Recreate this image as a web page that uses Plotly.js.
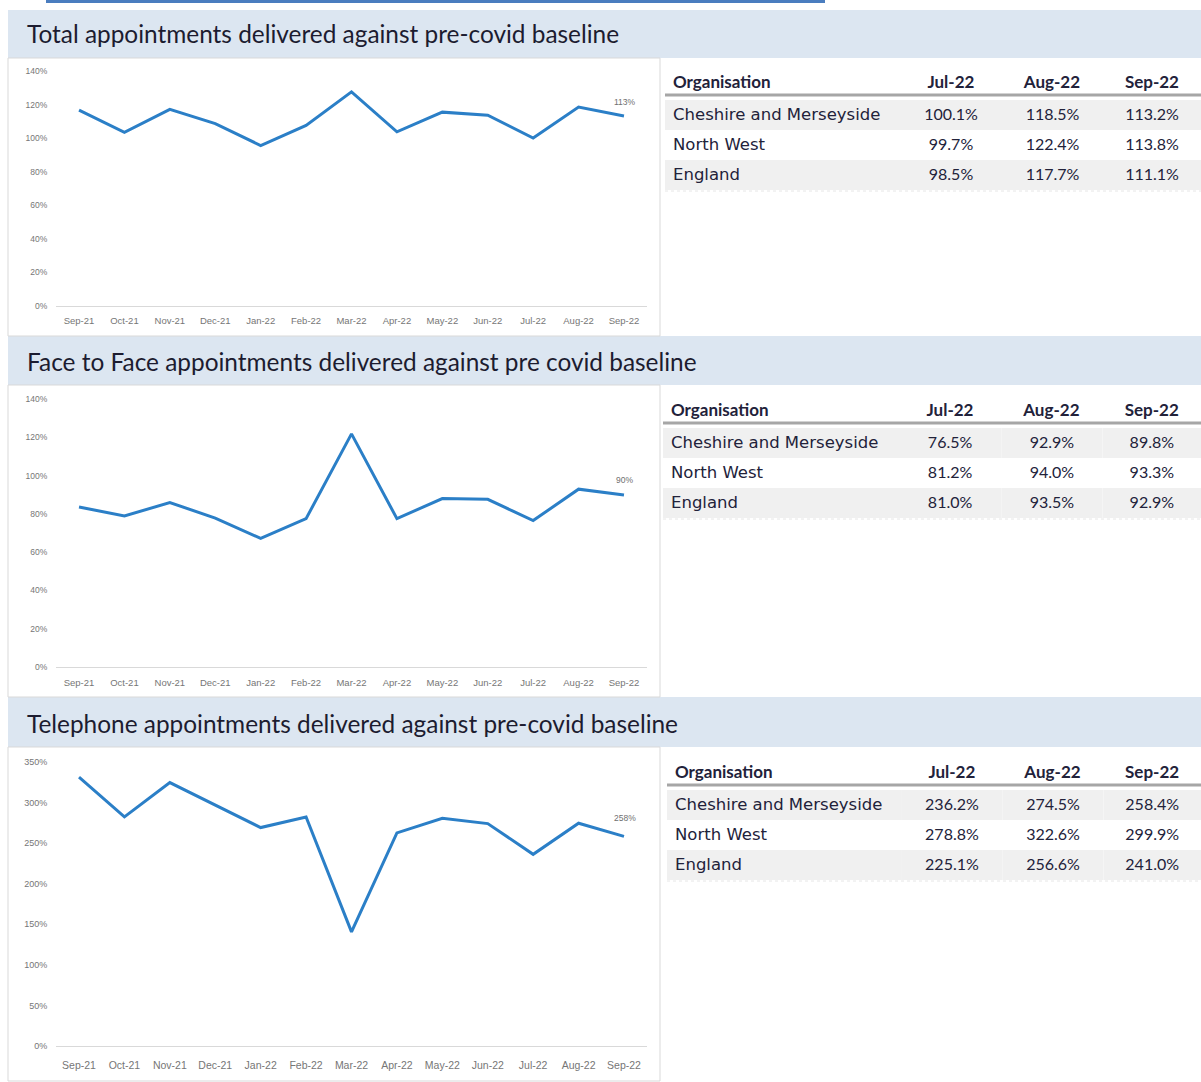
<!DOCTYPE html>
<html>
<head>
<meta charset="utf-8">
<script src="https://cdn.plot.ly/plotly-3.0.1.min.js"></script>
<style>
  html, body { margin: 0; padding: 0; background: #ffffff; }
  #chart { width: 1201px; height: 1082px; }
</style>
</head>
<body>
<div id="chart"></div>
<script>
// ---------- DATA ----------
const months = ["Sep-21","Oct-21","Nov-21","Dec-21","Jan-22","Feb-22","Mar-22","Apr-22","May-22","Jun-22","Jul-22","Aug-22","Sep-22"];

const totalPct = [116.7, 103.4, 117.1, 108.7, 95.6, 107.6, 127.6, 103.8, 115.5, 113.7, 100.1, 118.5, 113.2];
const faceToFacePct = [83.6, 78.9, 85.9, 77.8, 67.2, 77.5, 121.8, 77.5, 88.0, 87.6, 76.5, 92.9, 89.8];
const telephonePct = [331.5, 282.3, 324.6, 296.7, 269.2, 282.3, 140.7, 262.6, 280.7, 274.1, 236.2, 274.5, 258.4];

const sectionTitles = [
  "Total appointments delivered against pre-covid baseline",
  "Face to Face appointments delivered against pre covid baseline",
  "Telephone appointments delivered against pre-covid baseline"
];

const tableHeaders = ["Organisation", "Jul-22", "Aug-22", "Sep-22"];
const organisations = ["Cheshire and Merseyside", "North West", "England"];

const totalJul = ["100.1%", "99.7%", "98.5%"];
const totalAug = ["118.5%", "122.4%", "117.7%"];
const totalSep = ["113.2%", "113.8%", "111.1%"];

const f2fJul = ["76.5%", "81.2%", "81.0%"];
const f2fAug = ["92.9%", "94.0%", "93.5%"];
const f2fSep = ["89.8%", "93.3%", "92.9%"];

const telJul = ["236.2%", "278.8%", "225.1%"];
const telAug = ["274.5%", "322.6%", "256.6%"];
const telSep = ["258.4%", "299.9%", "241.0%"];

// ---------- LAYOUT HELPERS ----------
const W = 1201, H = 1082;
const px = x => x / W;
const py = y => 1 - y / H;

const lineColor = "#2b7fc7";
const tickGray = "#767676";
const textDark = "#22223a";

function lineTrace(vals, xa, ya) {
  return {
    type: "scatter",
    mode: "lines",
    x: months,
    y: vals,
    xaxis: xa,
    yaxis: ya,
    line: { color: lineColor, width: 3 },
    hoverinfo: "x+y",
    showlegend: false
  };
}

function lastLabelAnnotation(vals, xa, ya, shift) {
  const i = vals.length - 1;
  return {
    xref: xa, yref: ya,
    x: months[i], y: vals[i],
    text: Math.round(vals[i]) + "%",
    showarrow: false,
    yshift: shift,
    xshift: 1,
    font: { family: "Liberation Sans Narrow, Liberation Sans", size: 8.5, color: "#6f6f6f" }
  };
}

function tableTrace(jul, aug, sep, x0, yTop, yBottom) {
  const rowFill = ["#f0f0f0", "#ffffff", "#f0f0f0"];
  return {
    type: "table",
    domain: { x: [px(x0), 1], y: [py(yBottom), py(yTop)] },
    columnwidth: [235, 102, 101, 98],
    header: {
      values: tableHeaders.map(h => "<b>" + h + "</b>"),
      align: ["left", "center", "center", "center"],
      height: 30,
      line: { width: 0, color: "rgba(0,0,0,0)" },
      fill: { color: "rgba(0,0,0,0)" },
      font: { family: "Lato", size: 17, color: textDark }
    },
    cells: {
      values: [organisations, jul, aug, sep],
      align: ["left", "center", "center", "center"],
      height: 30,
      line: { width: 0, color: "rgba(0,0,0,0)" },
      fill: { color: [rowFill, rowFill, rowFill, rowFill] },
      font: { family: ["DejaVu Sans", "Lato", "Lato", "Lato"], size: [16.5, 16, 16, 16], color: textDark }
    }
  };
}

const traces = [
  lineTrace(totalPct, "x", "y"),
  lineTrace(faceToFacePct, "x2", "y2"),
  lineTrace(telephonePct, "x3", "y3"),
  tableTrace(totalJul, totalAug, totalSep, 665, 63, 200),
  tableTrace(f2fJul, f2fAug, f2fSep, 663, 391, 530),
  tableTrace(telJul, telAug, telSep, 667, 753, 892)
];

const xDomain = [px(56.3), px(646.7)];

function xAxis(anchor, fontSize, standoff) {
  return {
    domain: xDomain,
    anchor: anchor,
    type: "category",
    range: [-0.5, 12.5],
    showgrid: false,
    zeroline: false,
    showline: true,
    linecolor: "#d9d9d9",
    linewidth: 1,
    ticks: "",
    tickfont: { family: "Liberation Sans Narrow, Liberation Sans", size: fontSize, color: tickGray },
    ticklabelstandoff: standoff,
    fixedrange: true
  };
}

function yAxis(anchor, dom, maxv, dtick, fontSize) {
  return {
    domain: dom,
    anchor: anchor,
    range: [0, maxv],
    dtick: dtick,
    tick0: 0,
    ticksuffix: "%",
    showgrid: false,
    zeroline: false,
    showline: false,
    ticks: "",
    tickfont: { family: "Liberation Sans Narrow, Liberation Sans", size: fontSize, color: tickGray },
    ticklabelstandoff: 8,
    fixedrange: true
  };
}

const shapes = [];
// top blue strip
shapes.push({ type: "rect", xref: "paper", yref: "paper", x0: px(46), x1: px(825), y0: py(3), y1: py(0), fillcolor: "#4a7dbf", line: { width: 0 }, layer: "below" });
// title bars
[[10, 58], [336, 385], [697, 747]].forEach(([a, b]) => {
  shapes.push({ type: "rect", xref: "paper", yref: "paper", x0: px(8), x1: 1, y0: py(b), y1: py(a), fillcolor: "#dce6f1", line: { width: 0 }, layer: "below" });
});
// chart panels
[[58, 336], [385, 697], [747, 1081]].forEach(([a, b]) => {
  shapes.push({ type: "rect", xref: "paper", yref: "paper", x0: px(8), x1: px(660), y0: py(b), y1: py(a), fillcolor: "#ffffff", line: { width: 1, color: "#d9d9d9" }, layer: "below" });
});
// table header underlines and bottom dotted lines
[[665, 95, 191], [663, 423, 519], [667, 785, 881]].forEach(([x0, yl, yb]) => {
  shapes.push({ type: "line", xref: "paper", yref: "paper", x0: px(x0), x1: 1, y0: py(yl), y1: py(yl), line: { width: 3, color: "#a6a6a6" }, layer: "above" });
  shapes.push({ type: "line", xref: "paper", yref: "paper", x0: px(x0), x1: 1, y0: py(yb), y1: py(yb), line: { width: 1, color: "#e6e6e6", dash: "dot" }, layer: "above" });
});

const annotations = [[33, 0], [361, 1], [723, 2]].map(([yc, i]) => ({
  xref: "paper", yref: "paper",
  x: px(25), y: py(yc),
  xanchor: "left", yanchor: "middle",
  text: sectionTitles[i],
  showarrow: false,
  font: { family: "Lato", size: 24.4, color: "#1c1c30" }
}));
annotations.push(lastLabelAnnotation(totalPct, "x", "y", 14));
annotations.push(lastLabelAnnotation(faceToFacePct, "x2", "y2", 15));
annotations.push(lastLabelAnnotation(telephonePct, "x3", "y3", 18));

const layout = {
  width: W,
  height: H,
  margin: { l: 0, r: 0, t: 0, b: 0 },
  paper_bgcolor: "#ffffff",
  plot_bgcolor: "rgba(0,0,0,0)",
  showlegend: false,
  xaxis: xAxis("y", 9.5, 6),
  yaxis: yAxis("x", [py(306), py(71)], 140, 20, 8.5),
  xaxis2: xAxis("y2", 9.5, 7),
  yaxis2: yAxis("x2", [py(667), py(399)], 140, 20, 8.5),
  xaxis3: xAxis("y3", 10.5, 9),
  yaxis3: yAxis("x3", [py(1046), py(762)], 350, 50, 9),
  shapes: shapes,
  annotations: annotations
};

Plotly.newPlot("chart", traces, layout, { displayModeBar: false, staticPlot: true });
</script>
</body>
</html>
